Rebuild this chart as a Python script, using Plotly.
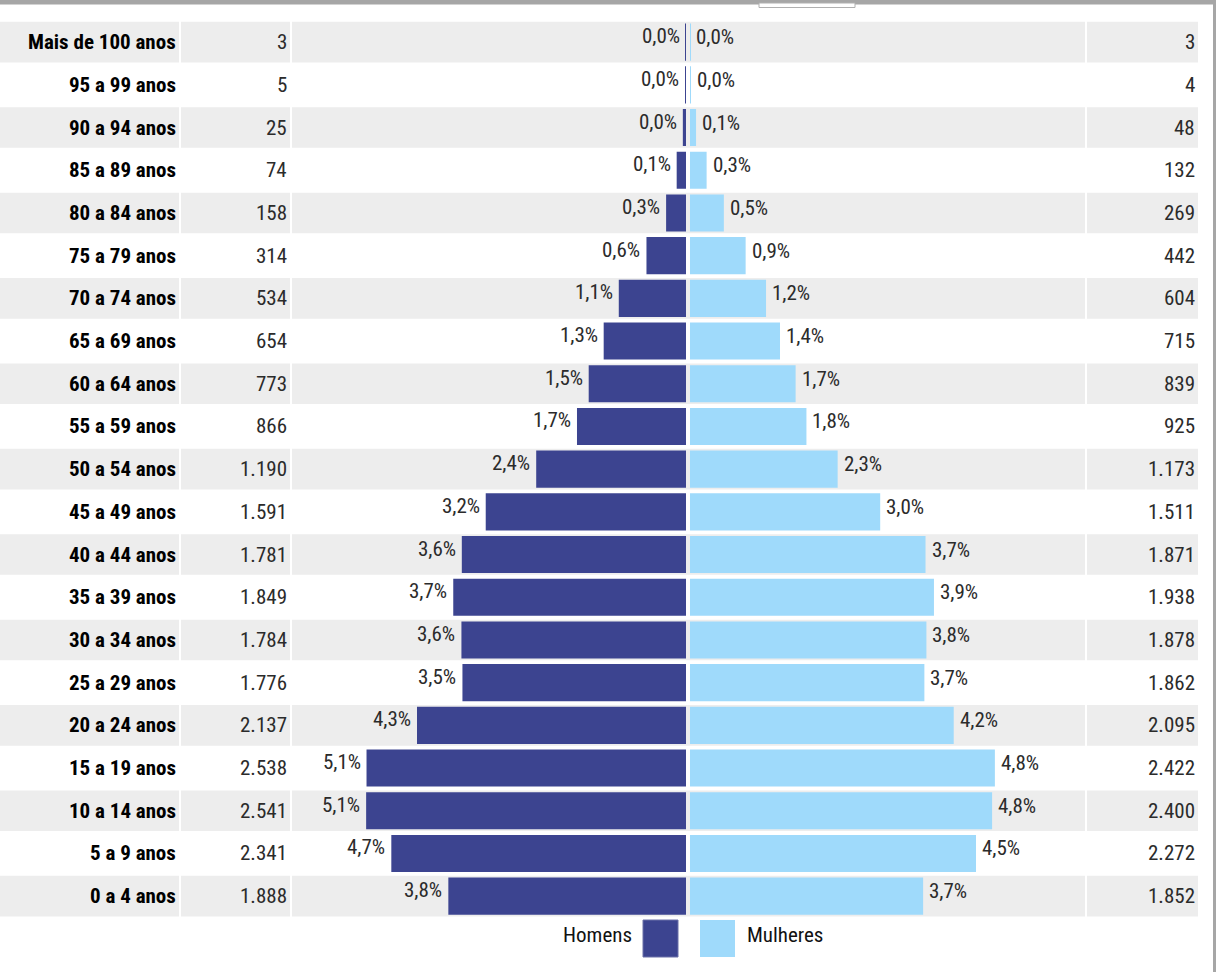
import plotly.graph_objects as go

# ---------------- data ----------------
faixas = ["Mais de 100 anos", "95 a 99 anos", "90 a 94 anos", "85 a 89 anos",
          "80 a 84 anos", "75 a 79 anos", "70 a 74 anos", "65 a 69 anos",
          "60 a 64 anos", "55 a 59 anos", "50 a 54 anos", "45 a 49 anos",
          "40 a 44 anos", "35 a 39 anos", "30 a 34 anos", "25 a 29 anos",
          "20 a 24 anos", "15 a 19 anos", "10 a 14 anos", "5 a 9 anos", "0 a 4 anos"]
homens = [3, 5, 25, 74, 158, 314, 534, 654, 773, 866, 1190, 1591, 1781, 1849,
          1784, 1776, 2137, 2538, 2541, 2341, 1888]
mulheres = [3, 4, 48, 132, 269, 442, 604, 715, 839, 925, 1173, 1511, 1871, 1938,
            1878, 1862, 2095, 2422, 2400, 2272, 1852]
pct_homens = ["0,0%", "0,0%", "0,0%", "0,1%", "0,3%", "0,6%", "1,1%", "1,3%", "1,5%",
              "1,7%", "2,4%", "3,2%", "3,6%", "3,7%", "3,6%", "3,5%", "4,3%", "5,1%",
              "5,1%", "4,7%", "3,8%"]
pct_mulheres = ["0,0%", "0,0%", "0,1%", "0,3%", "0,5%", "0,9%", "1,2%", "1,4%", "1,7%",
                "1,8%", "2,3%", "3,0%", "3,7%", "3,9%", "3,8%", "3,7%", "4,2%", "4,8%",
                "4,8%", "4,5%", "3,7%"]
legenda = ["Homens", "Mulheres"]

# ---------------- style ----------------
W, H = 1216, 972
FONT = "Liberation Sans Narrow, Arial Narrow, Roboto Condensed, Liberation Sans, sans-serif"
COR_H = "#3C4490"
COR_M = "#9FDAFB"
BAND = "#EDEDED"
XMAX = 3130


def px(x):
    return x / W


def py(y):
    return 1 - y / H


def fmt(v):
    return f"{v:,}".replace(",", ".")


fig = go.Figure()
fig.add_trace(go.Bar(y=faixas, x=homens, orientation="h", xaxis="x", yaxis="y",
                     marker=dict(color=COR_H, line=dict(width=0)),
                     hoverinfo="skip", name=legenda[0]))
fig.add_trace(go.Bar(y=faixas, x=mulheres, orientation="h", xaxis="x2", yaxis="y",
                     marker=dict(color=COR_M, line=dict(width=0)),
                     hoverinfo="skip", name=legenda[1]))

shapes = []
# row bands (alternating), split into table columns
cols = [(0, 179), (181, 290), (292, 1085), (1087, 1198)]
for i in range(0, len(faixas), 2):
    for (a, b) in cols:
        shapes.append(dict(type="rect", xref="paper", yref="y", x0=px(a), x1=px(b),
                           y0=i - 0.475, y1=i + 0.475, fillcolor=BAND,
                           line=dict(width=0), layer="below"))

# page decorations (top bar, right border, small tab)
shapes.append(dict(type="rect", xref="paper", yref="paper", x0=0, x1=1, y0=py(4.5), y1=1,
                   fillcolor="#A6A6A6", line=dict(width=0), layer="above"))
shapes.append(dict(type="rect", xref="paper", yref="paper", x0=px(1213), x1=1, y0=0, y1=1,
                   fillcolor="#A6A6A6", line=dict(width=0), layer="above"))
shapes.append(dict(type="rect", xref="paper", yref="paper", x0=px(759), x1=px(855),
                   y0=py(7.5), y1=py(3), fillcolor="white",
                   line=dict(width=1, color="#B0B0B0"), layer="above"))

# legend squares
shapes.append(dict(type="rect", xref="paper", yref="paper", x0=px(643), x1=px(678),
                   y0=py(957), y1=py(920), fillcolor=COR_H,
                   line=dict(width=1, color="#6A70A8")))
shapes.append(dict(type="rect", xref="paper", yref="paper", x0=px(700), x1=px(735),
                   y0=py(957), y1=py(920), fillcolor=COR_M, line=dict(width=0)))

ann = []
for i, f in enumerate(faixas):
    ann.append(dict(xref="paper", yref="y", x=px(178), y=f, text=f"<b>{f}</b>",
                    xanchor="right", yanchor="middle", showarrow=False,
                    font=dict(family=FONT, size=21, color="#000000")))
    ann.append(dict(xref="paper", yref="y", x=px(289), y=f, text=fmt(homens[i]),
                    xanchor="right", yanchor="middle", showarrow=False,
                    font=dict(family=FONT, size=21, color="#2B2B2B")))
    ann.append(dict(xref="paper", yref="y", x=px(1197), y=f, text=fmt(mulheres[i]),
                    xanchor="right", yanchor="middle", showarrow=False,
                    font=dict(family=FONT, size=21, color="#2B2B2B")))
    ann.append(dict(xref="x", yref="y", x=homens[i], y=f, text=pct_homens[i],
                    xanchor="right", yanchor="middle", xshift=-4, yshift=6,
                    showarrow=False, font=dict(family=FONT, size=21, color="#2B2B2B")))
    ann.append(dict(xref="x2", yref="y", x=mulheres[i], y=f, text=pct_mulheres[i],
                    xanchor="left", yanchor="middle", xshift=4, yshift=5,
                    showarrow=False, font=dict(family=FONT, size=21, color="#2B2B2B")))

ann.append(dict(xref="paper", yref="paper", x=px(634), y=py(935), text=legenda[0],
                xanchor="right", yanchor="middle", showarrow=False,
                font=dict(family=FONT, size=21, color="#111111")))
ann.append(dict(xref="paper", yref="paper", x=px(745), y=py(935), text=legenda[1],
                xanchor="left", yanchor="middle", showarrow=False,
                font=dict(family=FONT, size=21, color="#111111")))

fig.update_layout(
    width=W, height=H,
    margin=dict(l=0, r=0, t=0, b=0),
    paper_bgcolor="white", plot_bgcolor="rgba(0,0,0,0)",
    showlegend=False, bargap=0.13,
    xaxis=dict(domain=[px(292), px(686)], range=[XMAX, 0], visible=False, fixedrange=True),
    xaxis2=dict(domain=[px(690), px(1084)], range=[0, XMAX], visible=False,
                anchor="y", fixedrange=True),
    yaxis=dict(domain=[py(917.5), py(20.8)], type="category", categoryorder="array",
               categoryarray=faixas, range=[len(faixas) - 0.5, -0.5], visible=False,
               fixedrange=True),
    shapes=shapes, annotations=ann,
)

fig.write_html("out.html", config={"displayModeBar": False},
               post_script="document.body.style.margin='0';"
                           "document.body.style.overflow='hidden';")
